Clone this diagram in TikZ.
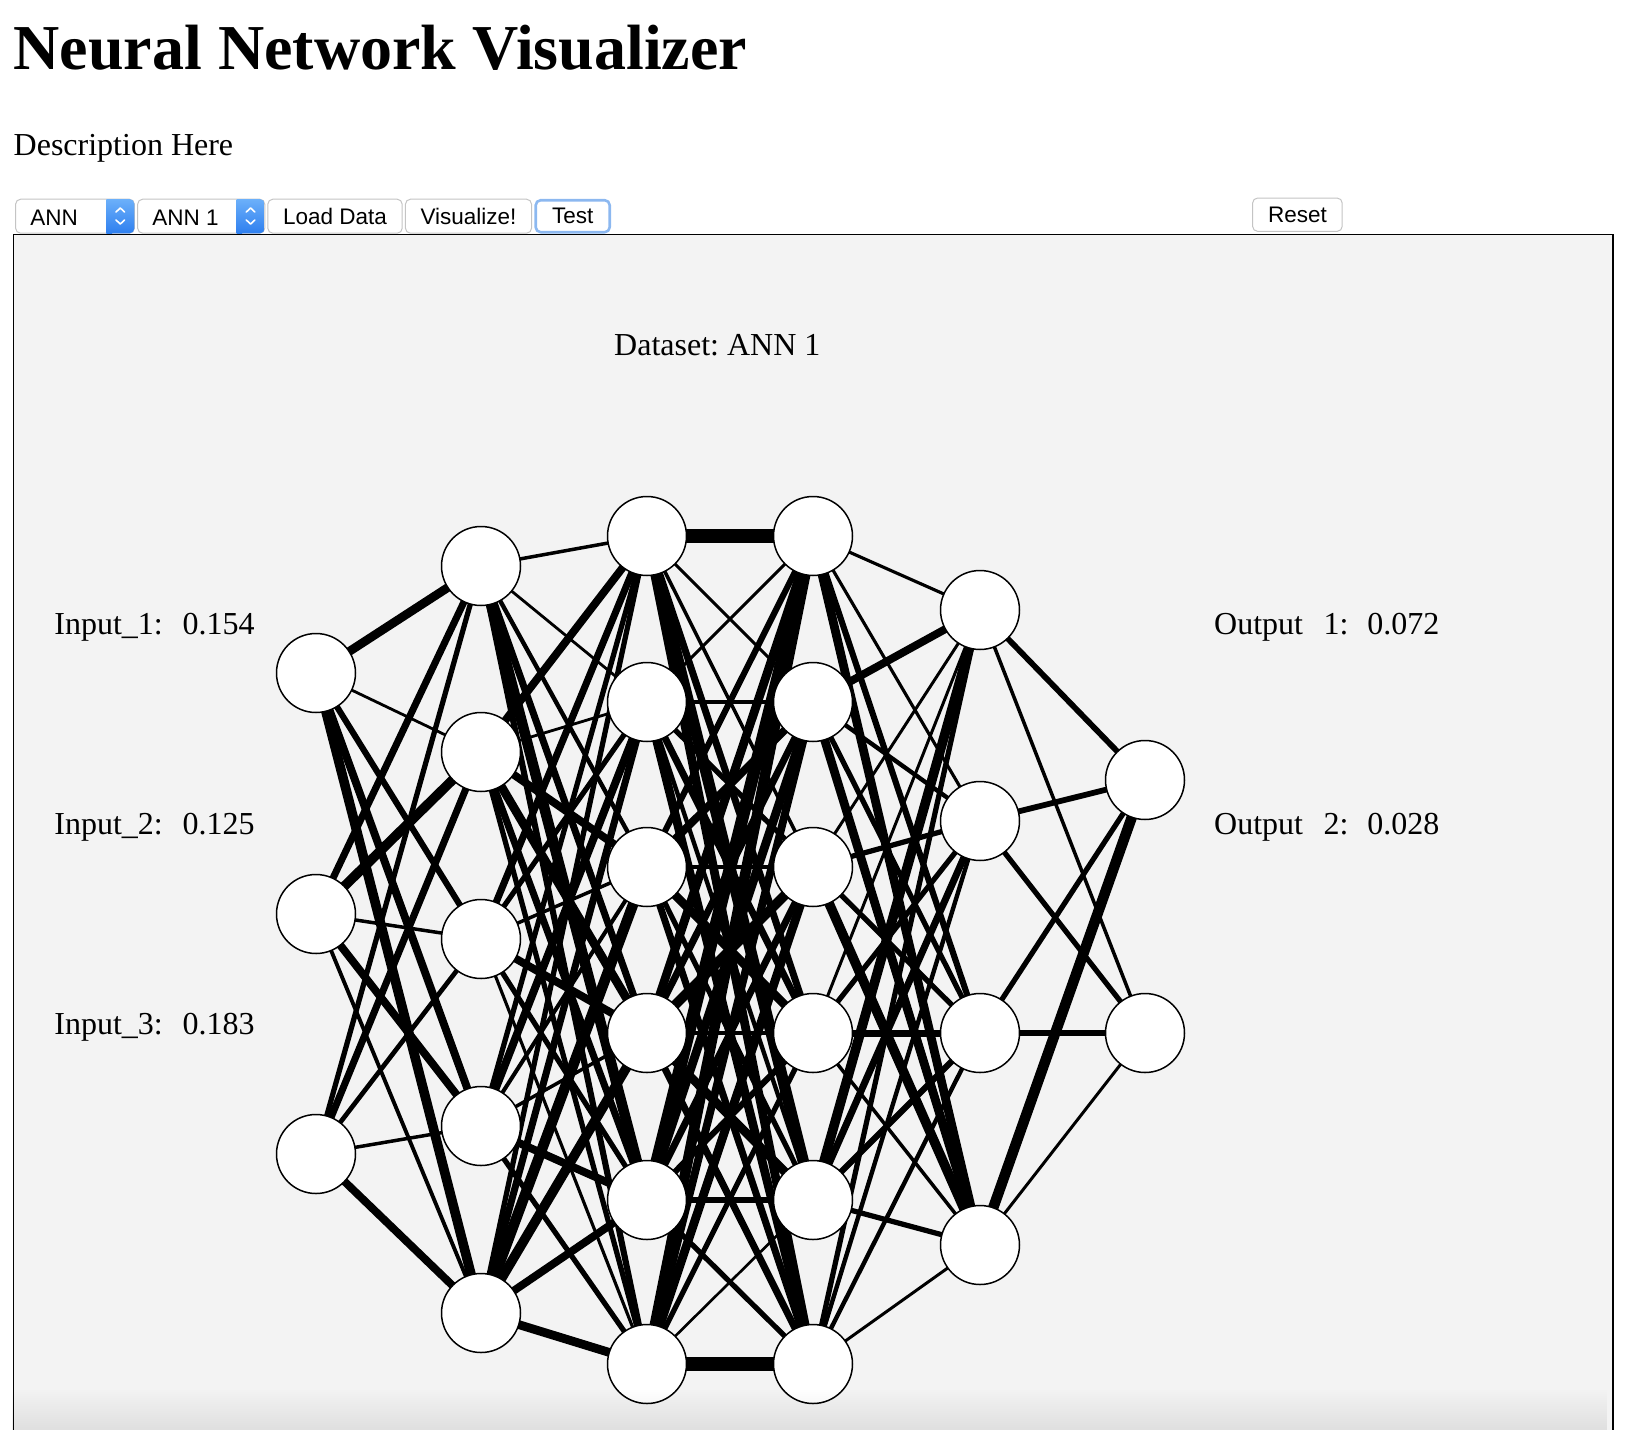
\documentclass[tikz,border=0pt]{standalone}
\usepackage{fontspec}
\setmainfont{Liberation Serif}
\setsansfont{Liberation Sans}
\usetikzlibrary{backgrounds,fadings}
\definecolor{panelgray}{RGB}{243,243,243}
\definecolor{btnborder}{RGB}{196,196,196}
\definecolor{seltop}{RGB}{108,176,250}
\definecolor{selbot}{RGB}{46,127,239}
\definecolor{focusblue}{RGB}{140,184,240}
\frenchspacing

\begin{document}
\begin{tikzpicture}[x=1pt, y=-1pt, line join=round]
\tikzset{
  neuron/.style={circle, draw, fill=white, line width=1.5pt, minimum size=79pt, inner sep=0pt},
  wire/.style={line cap=butt},
  label/.style={font=\fontsize{32}{38}\selectfont, anchor=base west, inner sep=0pt},
  btn/.style={draw=btnborder, fill=white, rounded corners=5pt, line width=1pt, minimum height=34pt, inner sep=0pt, font=\sffamily\fontsize{22.5}{26}\selectfont},
  btntext/.style={anchor=base west, inner sep=0pt, font=\sffamily\fontsize{22.5}{26}\selectfont},
  chevron/.style={white, line width=1.6pt, line cap=round}
}
\useasboundingbox (0,0) rectangle (1634,1430);

% heading
\node[anchor=base west, inner sep=0pt, font=\bfseries\fontsize{64}{72}\selectfont] (title) at (13.5,69) {Neural Network Visualizer};
\node[label] (descr) at (13.5,155) {Description Here};

% controls
\node[btn, minimum width=118.8pt] (sel1) at (75,216.2) {};
\shade[top color=seltop, bottom color=selbot, rounded corners=5pt] (106.3,199) rectangle (134.4,233.4);
\shade[top color=seltop, bottom color=selbot] (106.3,199) rectangle (112,233.4);
\draw[chevron] (116,212) -- (120.3,208) -- (124.6,212);
\draw[chevron] (116,220) -- (120.3,224) -- (124.6,220);
\node[btntext] (sel1txt) at (30.2,225) {ANN};

\node[btn, minimum width=127.1pt] (sel2) at (201.2,216.2) {};
\shade[top color=seltop, bottom color=selbot, rounded corners=5pt] (236.5,199) rectangle (264.7,233.4);
\shade[top color=seltop, bottom color=selbot] (236.5,199) rectangle (242,233.4);
\draw[chevron] (246.3,212) -- (250.6,208) -- (254.9,212);
\draw[chevron] (246.3,220) -- (250.6,224) -- (254.9,220);
\node[btntext] (sel2txt) at (152.1,225) {ANN 1};

\node[btn, minimum width=134.4pt] (load) at (335,216.2) {Load Data};
\node[btn, minimum width=126.1pt] (visual) at (468.5,216.2) {Visualize!};
\node[btn, draw=focusblue, line width=2.6pt, minimum width=74pt, minimum height=32pt] (test) at (572.7,216.2) {Test};
\node[btn, minimum width=89.6pt, minimum height=33.3pt] (reset) at (1297.4,214.7) {Reset};

% network layers
\foreach \y [count=\i] in {673,914,1154} \node[neuron] (a\i) at (316,\y) {};
\foreach \y [count=\i] in {566,752,939,1126,1313} \node[neuron] (b\i) at (481,\y) {};
\foreach \y [count=\i] in {536,702,867,1033,1200,1364} \node[neuron] (c\i) at (647,\y) {};
\foreach \y [count=\i] in {536,702,867,1033,1200,1364} \node[neuron] (d\i) at (813,\y) {};
\foreach \y [count=\i] in {610,821,1033,1245} \node[neuron] (e\i) at (980,\y) {};
\foreach \y [count=\i] in {780,1033} \node[neuron] (f\i) at (1145,\y) {};

\begin{scope}[on background layer]
  % panel
  \fill[panelgray] (13.5,234.5) rectangle (1613,1440);
  \draw[line width=1.2pt] (13.5,1440) -- (13.5,234.5) -- (1613,234.5) -- (1613,1440);

  % weights (line widths)
  \foreach \s/\ws in {1/{5,1.6,3.5,4.5,5.5}, 2/{4,5.5,2,4.5,2.2}, 3/{3,4,2.7,2,4.5}}
    \foreach \w [count=\t] in \ws
      \draw[wire, line width=1.75*\w pt] (a\s.center) -- (b\t.center);
  \foreach \s/\ws in {1/{2,1.6,2.5,4,6,3.5}, 2/{4.5,1.6,4.5,5,4,3}, 3/{4,3,2,4.5,3,1.8},
                      4/{3,4.5,2.3,2,4.5,3}, 5/{3,4,6,5.5,4.5,5}}
    \foreach \w [count=\t] in \ws
      \draw[wire, line width=1.75*\w pt] (b\s.center) -- (c\t.center);
  \foreach \s/\ws in {1/{7.5,1.8,2,4,6.5,5}, 2/{1.8,1.8,3,4,2.5,5}, 3/{3.5,4.5,2,5,3,4},
                      4/{5,4,5.5,2.7,5,4}, 5/{7,5,4,3.5,3.3,3}, 6/{6,4.5,5,3,1.5,7.5}}
    \foreach \w [count=\t] in \ws
      \draw[wire, line width=1.75*\w pt] (c\s.center) -- (d\t.center);
  \foreach \s/\ws in {1/{1.8,1.8,3.5,5}, 2/{4.5,2.5,3,5}, 3/{1.7,3,3,5.5},
                      4/{1.7,3,4,2}, 5/{5.5,4,3.5,3}, 6/{3,2.5,2.5,1.7}}
    \foreach \w [count=\t] in \ws
      \draw[wire, line width=1.75*\w pt] (d\s.center) -- (e\t.center);
  \foreach \s/\ws in {1/{3.3,2}, 2/{3.3,3}, 3/{3,3}, 4/{6,1.7}}
    \foreach \w [count=\t] in \ws
      \draw[wire, line width=1.75*\w pt] (e\s.center) -- (f\t.center);
\end{scope}

% texts in panel
\node[label] (dataset) at (614,355) {Dataset: ANN 1};
\node[label] (in1) at (54.2,634.6) {Input\_1:};
\node[label] (in1v) at (182.4,634.6) {0.154};
\node[label] (in2) at (54.2,834.7) {Input\_2:};
\node[label] (in2v) at (182.4,834.7) {0.125};
\node[label] (in3) at (54.2,1034.8) {Input\_3:};
\node[label] (in3v) at (182.4,1034.8) {0.183};
\node[label] (out1) at (1214,634.6) {Output};
\node[label] (out1n) at (1323.4,634.6) {1:};
\node[label] (out1v) at (1367.2,634.6) {0.072};
\node[label] (out2) at (1214,834.7) {Output};
\node[label] (out2n) at (1323.4,834.7) {2:};
\node[label] (out2v) at (1367.2,834.7) {0.028};

% bottom fade
\fill[black, path fading=north, fill opacity=0.08] (14.1,1388) rectangle (1612.4,1430);
\end{tikzpicture}
\end{document}
